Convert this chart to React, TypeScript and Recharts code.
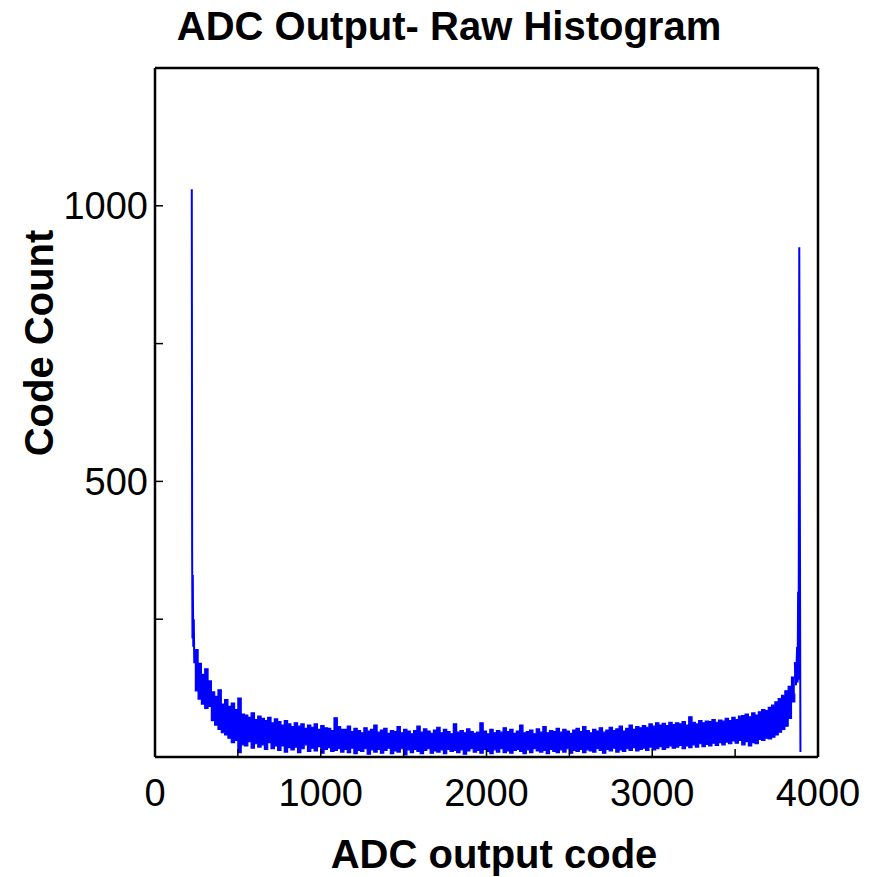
import React from 'react';
import { ComposedChart, Area, Line, XAxis, YAxis } from 'recharts';

// spike at the low end of the code range (code -> count)
const leftEdgeCodes = [222, 224, 226, 228, 231, 234, 237, 240];
const leftEdgeCounts = [1030, 382, 215, 330, 200, 250, 170, 195];

// spike at the high end
const rightEdgeCodes = [3860, 3867, 3874, 3877, 3880, 3883, 3887, 3894];
const rightEdgeCounts = [172, 130, 200, 135, 300, 140, 925, 9];

// body of the histogram: max / min count in each 20-code bin, bins start at 240
const bandStartCode = 240;
const bandStep = 20;
const bandHigh = [
  195, 170, 150, 160, 138, 118, 110, 122, 96, 104,
  92, 98, 86, 107, 78, 76, 72, 80, 68, 74,
  70, 66, 72, 62, 69, 64, 58, 66, 60, 55,
  62, 56, 60, 52, 58, 54, 60, 50, 57, 53,
  52, 48, 71, 55, 50, 50, 56, 46, 52, 48,
  44, 53, 47, 50, 58, 45, 49, 52, 43, 48,
  46, 55, 44, 50, 47, 42, 48, 56, 45, 51,
  47, 43, 49, 54, 44, 50, 46, 42, 60, 45,
  48, 44, 51, 46, 43, 45, 62, 47, 42, 50,
  44, 48, 45, 53, 46, 50, 43, 47, 58, 44,
  46, 49, 42, 51, 45, 55, 44, 48, 46, 52,
  45, 50, 47, 43, 49, 52, 46, 55, 48, 44,
  50, 47, 53, 45, 49, 54, 48, 51, 56, 47,
  52, 58, 50, 55, 53, 57, 54, 60, 56, 62,
  58, 61, 57, 63, 59, 62, 60, 64, 58, 73,
  63, 60, 66, 62, 65, 64, 68, 63, 67, 65,
  70, 66, 72, 68, 74, 75, 78, 73, 80, 76,
  82, 86, 84, 90, 94, 100, 106, 112, 120, 128,
  145, 172,
];
const bandLow = [
  120, 105, 96, 88, 92, 66, 58, 50, 44, 40,
  34, 26, 30, 8, 22, 20, 28, 16, 24, 18,
  22, 14, 26, 15, 20, 12, 20, 9, 17, 13,
  18, 8, 15, 22, 10, 16, 11, 19, 7, 14,
  17, 10, 12, 15, 9, 14, 8, 16, 6, 12,
  10, 15, 5, 13, 9, 14, 7, 12, 16, 6,
  11, 9, 15, 4, 13, 8, 14, 10, 6, 12,
  15, 7, 11, 9, 13, 6, 14, 10, 12, 8,
  13, 5, 11, 15, 9, 12, 7, 14, 10, 6,
  13, 9, 15, 8, 11, 7, 12, 14, 10, 6,
  13, 8, 15, 11, 9, 12, 6, 14, 10, 8,
  13, 9, 15, 7, 12, 10, 14, 8, 13, 11,
  9, 15, 12, 7, 14, 11, 16, 9, 13, 10,
  15, 12, 17, 11, 14, 16, 12, 18, 13, 15,
  19, 14, 17, 20, 16, 18, 21, 15, 20, 17,
  22, 18, 24, 19, 23, 20, 25, 21, 26, 22,
  27, 24, 29, 25, 30, 22, 28, 20, 26, 24,
  32, 30, 34, 33, 36, 40, 45, 50, 56, 70,
  100, 115,
];

const xTicks = [0, 500, 1000, 1500, 2000, 2500, 3000, 3500, 4000];
const xLabelled = [0, 1000, 2000, 3000, 4000];
const yTicks = [0, 250, 500, 750, 1000, 1250];
const yLabelled = [500, 1000];

const bandData = bandHigh.map((high, i) => ({ code: bandStartCode + i * bandStep, band: [bandLow[i], high] }));
const leftData = leftEdgeCodes.map((code, i) => ({ code, count: leftEdgeCounts[i] }));
const rightData = rightEdgeCodes.map((code, i) => ({ code, count: rightEdgeCounts[i] }));

const font = '"Liberation Sans", Arial, Helvetica, sans-serif';
const tickStyle = { fill: '#000', fontSize: 38, fontFamily: font };
const frame = { stroke: '#000', strokeWidth: 2.5 };
const tickMark = { stroke: '#000', strokeWidth: 1.5 };
const blue = '#0000ff';

const App = () => {
  return (
    <div style={{ position: 'absolute', left: 0, top: 0, width: 882, height: 877, background: '#fff', fontFamily: font }}>
      <div
        style={{
          position: 'absolute', left: 0, top: 4, width: 898, textAlign: 'center',
          fontSize: 40, fontWeight: 'bold', color: '#000', whiteSpace: 'nowrap',
        }}
      >
        ADC Output- Raw Histogram
      </div>
      <div
        style={{
          position: 'absolute', left: 0, top: 832, width: 988, textAlign: 'center',
          fontSize: 40, fontWeight: 'bold', color: '#000', whiteSpace: 'nowrap',
        }}
      >
        ADC output code
      </div>
      <div
        style={{
          position: 'absolute', left: 39 - 150, top: 343 - 22, width: 300, height: 45,
          textAlign: 'center', fontSize: 40, fontWeight: 'bold', color: '#000',
          transform: 'rotate(-90deg)', transformOrigin: '150px 22px', whiteSpace: 'nowrap',
        }}
      >
        Code Count
      </div>
      <ComposedChart
        width={882}
        height={877}
        margin={{ top: 67, right: 63, left: 55, bottom: 60 }}
        style={{ position: 'absolute', left: 0, top: 0 }}
      >
        <XAxis
          xAxisId="bottom"
          dataKey="code"
          type="number"
          domain={[0, 4000]}
          ticks={xTicks}
          interval={0}
          height={60}
          axisLine={frame}
          tickLine={tickMark}
          tickSize={-8}
          tickMargin={30}
          tick={tickStyle}
          tickFormatter={(v: number) => (xLabelled.includes(v) ? String(v) : '')}
        />
        <XAxis
          xAxisId="top"
          orientation="top"
          dataKey="code"
          type="number"
          domain={[0, 4000]}
          ticks={xTicks}
          interval={0}
          height={1}
          axisLine={frame}
          tickLine={tickMark}
          tickSize={-8}
          tick={false}
        />
        <YAxis
          yAxisId="left"
          type="number"
          domain={[0, 1250]}
          ticks={yTicks}
          interval={0}
          width={100}
          axisLine={frame}
          tickLine={tickMark}
          tickSize={-8}
          tickMargin={15}
          tick={tickStyle}
          tickFormatter={(v: number) => (yLabelled.includes(v) ? String(v) : '')}
        />
        <YAxis
          yAxisId="right"
          orientation="right"
          type="number"
          domain={[0, 1250]}
          ticks={yTicks}
          interval={0}
          width={1}
          axisLine={frame}
          tickLine={tickMark}
          tickSize={-8}
          tick={false}
        />
        <Area
          xAxisId="bottom"
          yAxisId="left"
          data={bandData}
          dataKey="band"
          type="stepAfter"
          stroke={blue}
          strokeWidth={1.2}
          fill={blue}
          fillOpacity={1}
          dot={false}
          activeDot={false}
          isAnimationActive={false}
        />
        <Line
          xAxisId="bottom"
          yAxisId="left"
          data={leftData}
          dataKey="count"
          type="linear"
          stroke={blue}
          strokeWidth={2}
          dot={false}
          isAnimationActive={false}
        />
        <Line
          xAxisId="bottom"
          yAxisId="left"
          data={rightData}
          dataKey="count"
          type="linear"
          stroke={blue}
          strokeWidth={2}
          dot={false}
          isAnimationActive={false}
        />
      </ComposedChart>
    </div>
  );
};

export default App;
